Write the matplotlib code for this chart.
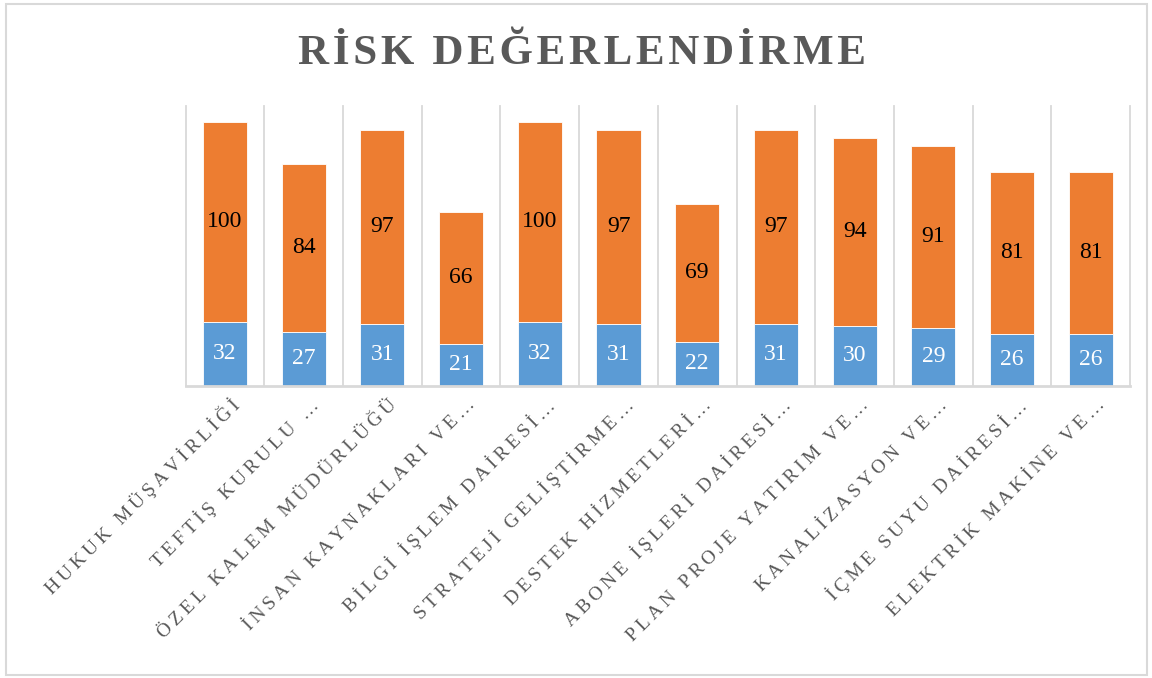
import matplotlib
matplotlib.use('Agg')
import matplotlib.pyplot as plt
from matplotlib.patches import Rectangle
from matplotlib.transforms import ScaledTranslation
import numpy as np

# birimler (eksen etiketleri, Excel'deki gibi kısaltılmış)
birimler = ['HUKUK MÜŞAVİRLİĞİ', 'TEFTİŞ KURULU …', 'ÖZEL KALEM MÜDÜRLÜĞÜ',
            'İNSAN KAYNAKLARI VE…', 'BİLGİ İŞLEM DAİRESİ…', 'STRATEJİ GELİŞTİRME…',
            'DESTEK HİZMETLERİ…', 'ABONE İŞLERİ DAİRESİ…', 'PLAN PROJE YATIRIM VE…',
            'KANALİZASYON VE…', 'İÇME SUYU DAİRESİ…', 'ELEKTRİK MAKİNE VE…']
seri1 = [32, 27, 31, 21, 32, 31, 22, 31, 30, 29, 26, 26]
seri2 = [100, 84, 97, 66, 100, 97, 69, 97, 94, 91, 81, 81]
baslik = 'RİSK DEĞERLENDİRME'

plt.rcParams['font.family'] = ['Liberation Serif', 'DejaVu Serif']

mavi = '#5B9BD5'
turuncu = '#ED7D31'
gri = '#D9D9D9'
yazi = '#595959'


def aralikli(s, sep):
    # harfler arasina bosluk koy (Excel'deki harf araligi gibi)
    return sep.join(s)


fig = plt.figure(figsize=(11.52, 6.78), dpi=100)
ax = fig.add_axes([185.7 / 1152, 1 - 385.7 / 678, (1130 - 185.7) / 1152, (385.7 - 106) / 678])

x = np.arange(len(birimler))
b1 = ax.bar(x, seri1, 0.56, color=mavi, edgecolor='white', linewidth=0.6, zorder=2)
b2 = ax.bar(x, seri2, 0.56, bottom=seri1, color=turuncu, edgecolor='white', linewidth=0.6, zorder=2)
ax.bar_label(b1, label_type='center', color='white', fontsize=17)
ax.bar_label(b2, label_type='center', color='black', fontsize=17)

ax.set_xlim(-0.5, len(birimler) - 0.5)
ax.set_ylim(0, 140)
ax.set_yticks([])
for xv in np.arange(-0.5, len(birimler), 1):
    ax.axvline(xv, color=gri, lw=1.3, zorder=0, clip_on=False)

for s in ['top', 'left', 'right']:
    ax.spines[s].set_visible(False)
ax.spines['bottom'].set_color(gri)
ax.spines['bottom'].set_linewidth(2)

ax.set_xticks(x)
ax.set_xticklabels([aralikli(b, '\u2009') for b in birimler], rotation=45, ha='right',
                   va='center', rotation_mode='anchor', fontsize=14, color=yazi)
ax.tick_params(axis='x', length=0, pad=12)
kaydir = ScaledTranslation(12 / 100, 0, fig.dpi_scale_trans)
for lbl in ax.get_xticklabels():
    lbl.set_transform(lbl.get_transform() + kaydir)

fig.text(0.505, 1 - 64 / 678, aralikli(baslik, '\u200a'), ha='center', va='baseline',
         fontsize=31, fontweight='bold', color=yazi)

fig.add_artist(Rectangle((6 / 1152, 3 / 678), (1147 - 6) / 1152, (675 - 4) / 678,
                         transform=fig.transFigure, fill=False, ec=gri, lw=1.5))

fig.savefig('out.png', dpi=100)
